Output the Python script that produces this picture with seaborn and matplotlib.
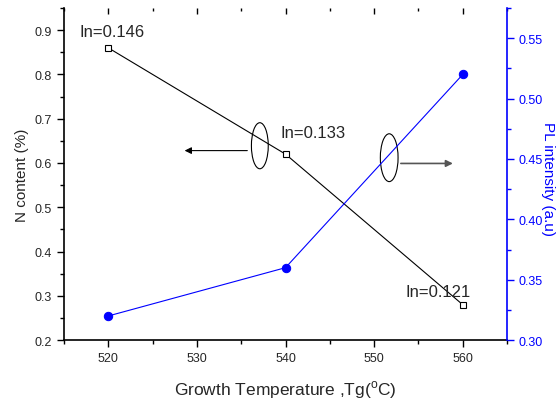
import matplotlib
matplotlib.use("Agg")
import matplotlib.pyplot as plt
import seaborn as sns
import pandas as pd
from matplotlib.patches import Ellipse
from matplotlib.ticker import MultipleLocator

temps = [520, 540, 560]
n_content = [0.86, 0.62, 0.28]
pl_intensity = [0.32, 0.36, 0.52]
in_labels = ["In=0.146", "In=0.133", "In=0.121"]

sns.set_style("white")
plt.rcParams['font.family'] = ['Liberation Sans', 'DejaVu Sans']
plt.rcParams['mathtext.fontset'] = 'custom'
plt.rcParams['mathtext.rm'] = 'Liberation Sans'

df = pd.DataFrame({"T": temps, "N": n_content, "PL": pl_intensity})

fig = plt.figure(figsize=(5.58, 4.10), dpi=100)
ax = fig.add_axes([0.1147, 0.168, 0.794, 0.81])
ax2 = ax.twinx()

sns.lineplot(data=df, x="T", y="N", ax=ax, color="black", lw=0.8,
             marker="s", markersize=5, markerfacecolor="white",
             markeredgecolor="black", markeredgewidth=0.8)
sns.lineplot(data=df, x="T", y="PL", ax=ax2, color="blue", lw=0.8,
             marker="o", markersize=6, markerfacecolor="blue",
             markeredgecolor="blue")

ax.set_xlim(515, 565)
ax.set_ylim(0.2, 0.95)
ax2.set_ylim(0.3, 0.575)

ax.xaxis.set_major_locator(MultipleLocator(10))
ax.xaxis.set_minor_locator(MultipleLocator(5))
ax.yaxis.set_major_locator(MultipleLocator(0.1))
ax.yaxis.set_minor_locator(MultipleLocator(0.05))
ax2.yaxis.set_minor_locator(MultipleLocator(0.025))
ax.set_yticks([0.2, 0.3, 0.4, 0.5, 0.6, 0.7, 0.8, 0.9])
ax2.set_yticks([0.30, 0.35, 0.40, 0.45, 0.50, 0.55])
ax2.set_yticklabels(["0.30", "0.35", "0.40", "0.45", "0.50", "0.55"])

for a in (ax, ax2):
    a.spines['top'].set_visible(False)
ax.spines['right'].set_visible(False)
ax2.spines['left'].set_visible(False)
ax2.spines['bottom'].set_visible(False)
ax2.spines['right'].set_color("blue")
for s in ('left', 'bottom'):
    ax.spines[s].set_color("black")
    ax.spines[s].set_linewidth(1.2)
ax2.spines['right'].set_linewidth(1.2)

# bottom / left ticks point outward, top ticks point inward
ax.tick_params(axis='both', which='major', direction='out', length=5,
               width=1, labelsize=9, color='black', bottom=True, left=True)
ax.tick_params(axis='both', which='minor', direction='out', length=3,
               width=1, color='black', bottom=True, left=True)
ax.xaxis.set_ticks_position('both')
for t in ax.xaxis.get_major_ticks():
    t.tick2line.set_marker(3)  # TICKDOWN: points into the axes
    t.tick2line.set_markersize(4)
    t.tick2line.set_color("#444444")
for t in ax.xaxis.get_minor_ticks():
    t.tick2line.set_marker(3)
    t.tick2line.set_markersize(2)
    t.tick2line.set_color("#444444")
ax2.tick_params(axis='y', which='major', direction='out', length=5, width=1,
                labelsize=9, color='blue', labelcolor='blue')
ax2.tick_params(axis='y', which='minor', direction='out', length=3, width=1,
                color='blue')

ax.set_xlabel("Growth Temperature ,Tg($^{\\rm o}$C)", fontsize=12.5, labelpad=10)
ax.set_ylabel("N content (%)", fontsize=11)
ax2.set_ylabel("PL intensity (a.u)", fontsize=11, color="blue",
               rotation=270, va="center")
ax2.yaxis.set_label_coords(1.092, 0.488)

ax.text(516.8, 0.898, in_labels[0], fontsize=12, va="center", ha="left")
ax.text(539.4, 0.668, in_labels[1], fontsize=12, va="center", ha="left")
ax.text(553.5, 0.310, in_labels[2], fontsize=12, va="center", ha="left")

ax.add_patch(Ellipse((537.1, 0.639), 1.9, 0.104, fill=False,
                     edgecolor="black", lw=0.8, zorder=5))
ax.add_patch(Ellipse((551.7, 0.612), 2.0, 0.108, fill=False,
                     edgecolor="black", lw=0.8, zorder=5))
ax.annotate("", xy=(528.3, 0.628), xytext=(536.0, 0.628),
            arrowprops=dict(arrowstyle="-|>", color="black", lw=0.8,
                            mutation_scale=10))
ax.annotate("", xy=(559.2, 0.599), xytext=(552.7, 0.599),
            arrowprops=dict(arrowstyle="-|>", color="#555555", lw=1.2,
                            mutation_scale=10))

fig.savefig("out.png", dpi=100)
